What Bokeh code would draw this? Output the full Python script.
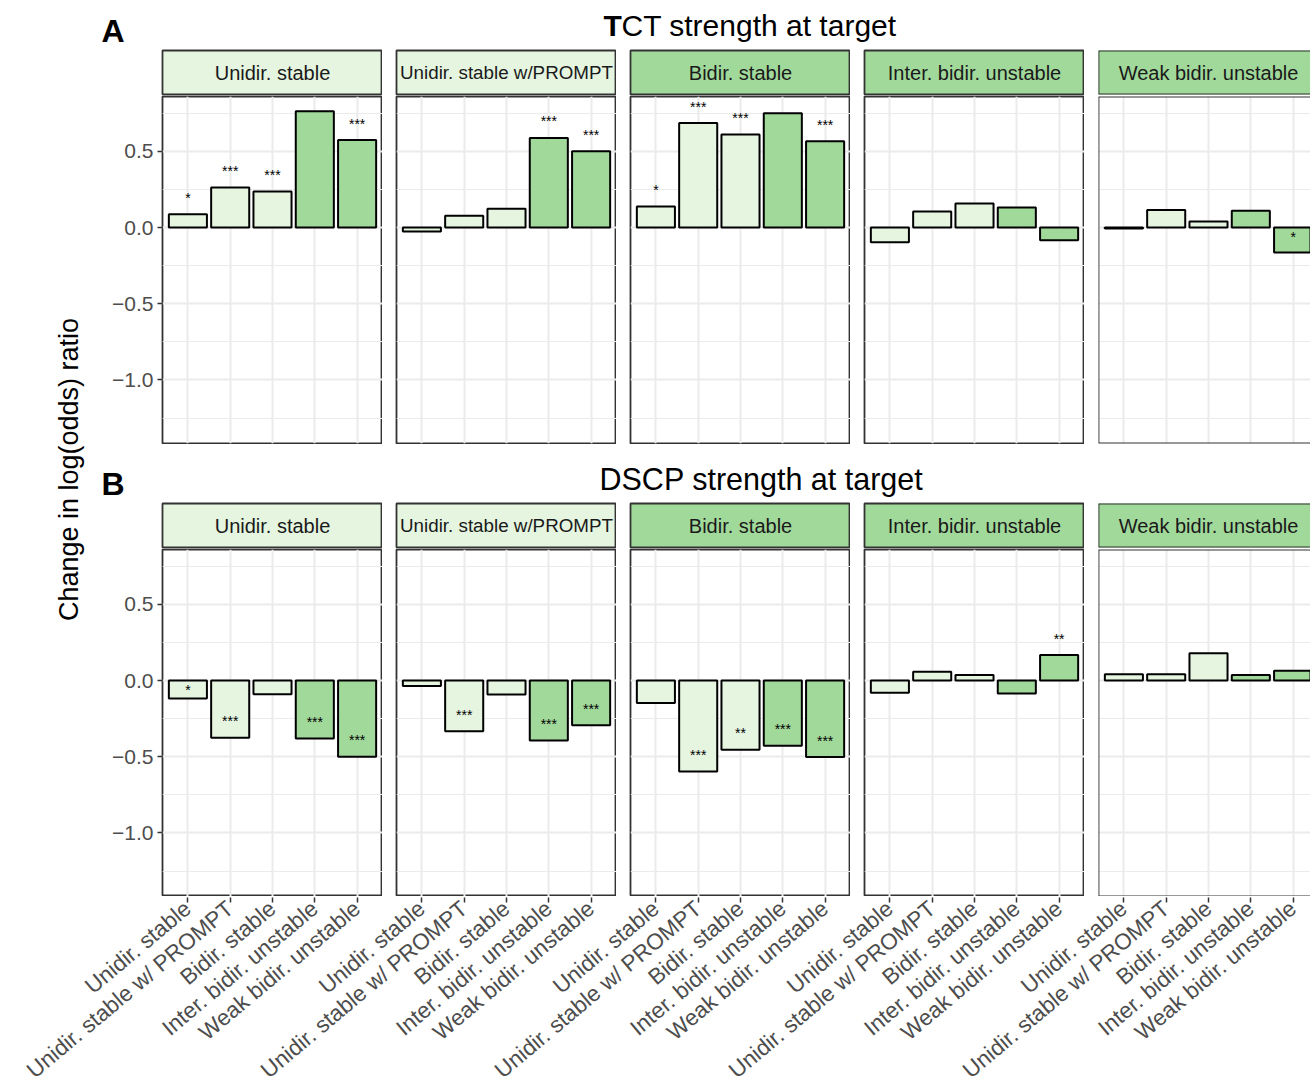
import math
from bokeh.plotting import figure
from bokeh.models import Range1d, FixedTicker, LinearAxis, Grid, ColumnDataSource, Span
from bokeh.layouts import row, column
from bokeh.core.properties import value
from bokeh.embed import file_html
from bokeh.resources import INLINE

# ---------------- data ----------------
categories = ["Unidir. stable", "Unidir. stable w/ PROMPT", "Bidir. stable",
              "Inter. bidir. unstable", "Weak bidir. unstable"]
strip_labels = ["Unidir. stable", "Unidir. stable w/PROMPT", "Bidir. stable",
                "Inter. bidir. unstable", "Weak bidir. unstable"]
row_titles = ["TCT strength at target", "DSCP strength at target"]
row_tags = ["A", "B"]

tct_values = [
    [0.088, 0.263, 0.237, 0.763, 0.574],
    [-0.026, 0.077, 0.123, 0.588, 0.500],
    [0.138, 0.686, 0.610, 0.750, 0.566],
    [-0.097, 0.105, 0.158, 0.132, -0.083],
    [-0.006, 0.116, 0.040, 0.110, -0.164],
]
tct_signif = [
    ["*", "***", "***", "", "***"],
    ["", "", "", "***", "***"],
    ["*", "***", "***", "", "***"],
    ["", "", "", "", ""],
    ["", "", "", "", "*"],
]
dscp_values = [
    [-0.118, -0.375, -0.090, -0.380, -0.500],
    [-0.035, -0.333, -0.092, -0.393, -0.294],
    [-0.147, -0.597, -0.454, -0.428, -0.502],
    [-0.080, 0.057, 0.037, -0.085, 0.167],
    [0.042, 0.042, 0.180, 0.037, 0.064],
]
dscp_signif = [
    ["*", "***", "", "***", "***"],
    ["", "***", "", "***", "***"],
    ["", "***", "**", "***", "***"],
    ["", "", "", "", "**"],
    ["", "", "", "", ""],
]
y_ticks = [-1.0, -0.5, 0.0, 0.5]
y_tick_labels = ["\u22121.0", "\u22120.5", "0.0", "0.5"]
y_minor = [-1.25, -0.75, -0.25, 0.25, 0.75]

# ---------------- style ----------------
FONT = "Liberation Sans"
LIGHT = "#e5f5e0"
DARK = "#a1d99b"
bar_colors = [LIGHT, LIGHT, LIGHT, DARK, DARK]
strip_colors = [LIGHT, LIGHT, DARK, DARK, DARK]
strip_font_sizes = ["20px", "18.8px", "20px", "20px", "20px"]
BORDER = "#333333"
GRID = "#ebebeb"
BW = 1.8

FW = 220
FW_LAST = 212
GAP = 14
AXW = 62
LEFT_W = 100
UNIT = FW / 5.2
Y0, Y1 = -1.417, 0.86
PH = 347
COL_W = AXW + FW + 3 * (GAP + FW) + GAP + FW_LAST
TOTAL_W = LEFT_W + COL_W
xs_cat = [1, 2, 3, 4, 5]


def base_fig(w, h, **kw):
    opts = dict(frame_width=w, frame_height=h, x_axis_location=None, y_axis_location=None,
                toolbar_location=None, output_backend="svg",
                border_fill_color="white", background_fill_color="white",
                min_border_left=0, min_border_right=0, min_border_top=0, min_border_bottom=0)
    opts.update(kw)
    p = figure(**opts)
    p.center = [c for c in p.center if not isinstance(c, Grid)]
    return p


def add_partial_frame(p, x0, color=BORDER):
    # last panel is cut at the right edge: draw left/top/bottom only
    p.add_layout(Span(location=x0, dimension="height", line_color=color, line_width=BW))
    p.add_layout(Span(location=p.y_range.end, dimension="width", line_color=color, line_width=BW))
    p.add_layout(Span(location=p.y_range.start, dimension="width", line_color=color, line_width=BW))


def make_panel(vals, sig, i, bottom_border):
    last = i == 4
    fw = FW_LAST if last else FW
    p = base_fig(fw, PH, x_range=Range1d(0.4, 0.4 + fw / UNIT), y_range=Range1d(Y0, Y1),
                 min_border_left=AXW if i == 0 else GAP, min_border_top=1,
                 min_border_bottom=bottom_border,
                 outline_line_color=None if last else BORDER, outline_line_width=BW)
    p.add_layout(Grid(dimension=0, ticker=FixedTicker(ticks=xs_cat),
                      grid_line_color=GRID, grid_line_width=2))
    p.add_layout(Grid(dimension=1, ticker=FixedTicker(ticks=y_ticks, minor_ticks=y_minor),
                      grid_line_color=GRID, grid_line_width=2,
                      minor_grid_line_color=GRID, minor_grid_line_width=1))
    if i == 0:
        ax = LinearAxis(ticker=FixedTicker(ticks=y_ticks),
                        major_label_overrides=dict(zip(y_ticks, y_tick_labels)),
                        axis_line_color=None, major_tick_line_color=BORDER,
                        major_tick_line_width=1.5, major_tick_in=0, major_tick_out=5,
                        minor_tick_line_color=None, major_label_standoff=4,
                        major_label_text_font=FONT, major_label_text_font_size="21px",
                        major_label_text_color="#4d4d4d")
        p.add_layout(ax, "left")
    src = ColumnDataSource(dict(x=xs_cat, top=vals, color=bar_colors))
    p.vbar(x="x", top="top", bottom=0, width=0.9, fill_color="color",
           line_color="black", line_width=2, source=src)
    sx, sy, st = [], [], []
    for k, (v, s) in enumerate(zip(vals, sig)):
        if s:
            c = v + 0.128 if v > 0 else min(v + 0.128, -0.045)
            sx.append(xs_cat[k])
            sy.append(c - 0.02)
            st.append(s)
    if st:
        p.text(x=sx, y=sy, text=st, text_font=value(FONT), text_font_size="14px",
               text_align="center", text_baseline="middle", text_color="black")
    if last:
        add_partial_frame(p, 0.4)
    return p


def make_strip(label, color, fsize, i):
    last = i == 4
    fw = FW_LAST if last else FW
    s = base_fig(fw, 44, x_range=Range1d(0.4, 0.4 + fw / UNIT), y_range=Range1d(0, 1),
                 min_border_left=AXW if i == 0 else GAP, min_border_top=1, min_border_bottom=1,
                 background_fill_color=color,
                 outline_line_color=None if last else BORDER, outline_line_width=BW)
    s.text(x=[3.0], y=[0.5], text=[label], text_font=value(FONT), text_font_size=fsize,
           text_align="center", text_baseline="middle", text_color="#1a1a1a")
    if last:
        add_partial_frame(s, 0.4)
    return s


def make_header(h, tag, title, title_y, tag_y, bold_first):
    hf = base_fig(COL_W, h, x_range=Range1d(0, COL_W), y_range=Range1d(0, h),
                  outline_line_color=None)
    hf.text(x=[1], y=[tag_y], text=[tag], text_font=value(FONT), text_font_size="32px",
            text_font_style="bold", text_align="left", text_baseline="middle",
            text_color="black")
    if bold_first:
        hf.text(x=[503], y=[title_y], text=[title[0]], text_font=value(FONT),
                text_font_size="30px", text_font_style="bold", text_align="left",
                text_baseline="middle", text_color="black")
        hf.text(x=[521], y=[title_y], text=[title[1:]], text_font=value(FONT),
                text_font_size="30px", text_align="left", text_baseline="middle",
                text_color="black")
    else:
        hf.text(x=[499], y=[title_y], text=[title], text_font=value(FONT),
                text_font_size="30.5px", text_align="left", text_baseline="middle",
                text_color="black")
    return hf


HA, HB, HS = 49, 58, 46
headerA = make_header(HA, row_tags[0], row_titles[0], HA - 24.5, HA - 30.5, True)
stripsA = row(*[make_strip(strip_labels[i], strip_colors[i], strip_font_sizes[i], i)
                for i in range(5)])
panelsA = row(*[make_panel(tct_values[i], tct_signif[i], i, 1) for i in range(5)])
headerB = make_header(HB, row_tags[1], row_titles[1], HB - 34, HB - 39.5, False)
stripsB = row(*[make_strip(strip_labels[i], strip_colors[i], strip_font_sizes[i], i)
                for i in range(5)])
panelsB = row(*[make_panel(dscp_values[i], dscp_signif[i], i, 0) for i in range(5)])

right_col = column(headerA, stripsA, panelsA, headerB, stripsB, panelsB)
COL_H = HA + HS + (PH + 2) + HB + HS + (PH + 1)

left = base_fig(LEFT_W, COL_H, x_range=Range1d(0, LEFT_W), y_range=Range1d(0, COL_H),
                outline_line_color=None)
left.text(x=[68], y=[COL_H - 469], text=["Change in log(odds) ratio"], angle=math.pi / 2,
          text_font=value(FONT), text_font_size="27px", text_align="center",
          text_baseline="middle", text_color="black")

# shared bottom axis with the category labels of every panel
x_start = 0.4 - (LEFT_W + AXW) / UNIT
x_end = x_start + TOTAL_W / UNIT
step = (FW + GAP) / UNIT
tick_pos = [round(i * step + k, 6) for i in range(5) for k in xs_cat]
tick_lab = [categories[k - 1] for i in range(5) for k in xs_cat]
axf = base_fig(TOTAL_W, 1, x_range=Range1d(x_start, x_end), y_range=Range1d(0, 1),
               outline_line_color=None)
xax = LinearAxis(ticker=FixedTicker(ticks=tick_pos),
                 major_label_overrides=dict(zip(tick_pos, tick_lab)),
                 major_label_orientation=math.radians(40),
                 axis_line_color=None, major_tick_line_color=BORDER, major_tick_line_width=1.5,
                 major_tick_in=0, major_tick_out=5, minor_tick_line_color=None,
                 major_label_standoff=3, major_label_text_font=FONT,
                 major_label_text_font_size="22.5px", major_label_text_color="#4d4d4d")
axf.add_layout(xax, "below")

layout = column(row(left, right_col), axf)

open("out.html", "w").write(file_html(layout, INLINE))
